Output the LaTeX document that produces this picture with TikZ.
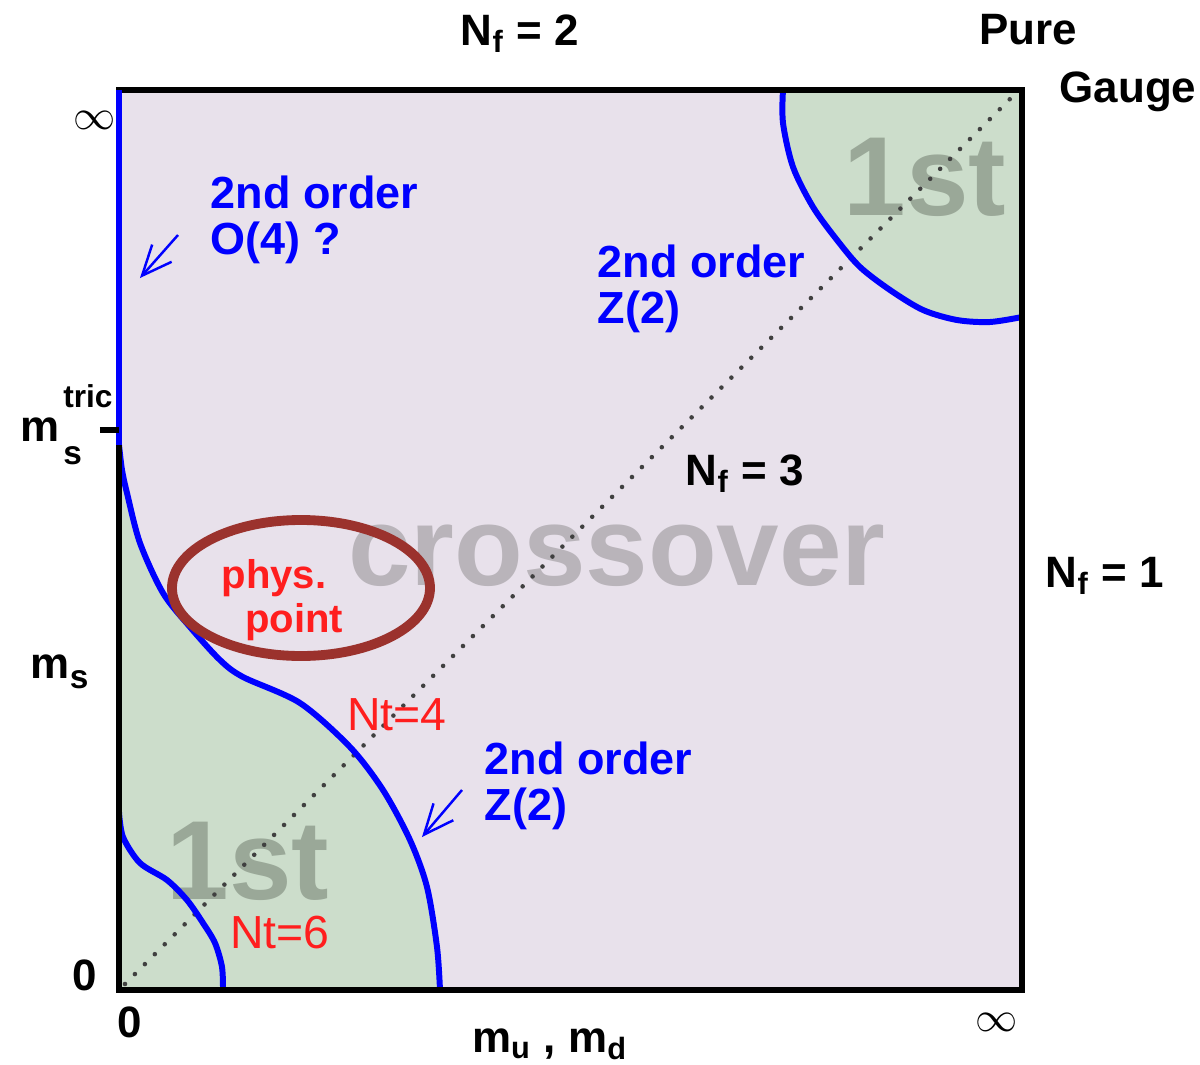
\documentclass[tikz,border=0pt]{standalone}
\usepackage{fontspec}
\setmainfont{Liberation Sans}
\usepackage{xcolor}
\usepackage{tikz}
\usetikzlibrary{positioning, arrows.meta, calc}

\definecolor{xoverfill}{RGB}{232,225,235}
\definecolor{firstfill}{RGB}{204,221,203}
\definecolor{firstgray}{RGB}{154,168,152}
\definecolor{xovergray}{RGB}{185,180,186}
\definecolor{ellred}{RGB}{155,50,45}
\definecolor{ptred}{RGB}{255,30,30}

\begin{document}
\begin{tikzpicture}[
    axlbl/.style={font=\bfseries\fontsize{12.5}{14}\selectfont, inner sep=0pt},
    order/.style={text=blue, align=left, anchor=north west, inner sep=0pt,
                  font=\bfseries\fontsize{12.8}{13.2}\selectfont},
    biglbl/.style={anchor=base, inner sep=0pt, font=\bfseries\fontsize{32}{36}\selectfont},
    ntlbl/.style={text=ptred, anchor=base, inner sep=0pt, font=\fontsize{13.2}{15}\selectfont},
    critline/.style={blue, line width=1.7pt},
    hint/.style={blue, line width=0.7pt, -{Straight Barb[length=3mm, width=2.6mm]}}
  ]
    \useasboundingbox (-1.19,-0.74) rectangle (10.81,9.90);

    % Regions
    \fill[xoverfill] (0,0) rectangle (9.03,9);
    \fill[firstfill] (0,0) -- plot[smooth] coordinates {(0,5.45) (0.03,5.2) (0.08,4.97) (0.21,4.47) (0.44,3.97) (0.71,3.63) (1.01,3.30) (1.24,3.13) (1.81,2.87) (2.31,2.43) (2.64,2.00) (2.91,1.50) (3.08,1.03) (3.18,0.43) (3.21,0)} -- cycle;
    \fill[firstfill] (9.03,9) -- plot[smooth] coordinates {(6.64,9) (6.64,8.67) (6.74,8.23) (6.94,7.83) (7.18,7.50) (7.41,7.23) (7.71,7.00) (8.04,6.80) (8.38,6.70) (8.71,6.68) (9.03,6.73)} -- cycle;

    % Region names
    \node[biglbl, text=xovergray] (xover) at (4.98,4.05) {crossover};
    \node[biglbl, text=firstgray] (firstlo) at (1.29,0.91) {1st};
    \node[biglbl, text=firstgray] (firsthi) at (8.06,7.75) {1st};

    % Nf=3 diagonal
    \coordinate (diaglo) at (0.06,0.06);
    \coordinate (diaghi) at (8.94,8.94);
    \draw[black!75, line width=1.3pt, line cap=round, dash pattern=on 0pt off 4pt] (diaglo) -- (diaghi);

    % Critical lines
    \draw[critline] (0,9) -- plot[smooth] coordinates {(0,5.45) (0.03,5.2) (0.08,4.97) (0.21,4.47) (0.44,3.97) (0.71,3.63) (1.01,3.30) (1.24,3.13) (1.81,2.87) (2.31,2.43) (2.64,2.00) (2.91,1.50) (3.08,1.03) (3.18,0.43) (3.21,0)};
    \draw[critline] plot[smooth] coordinates {(0,1.78) (0.04,1.53) (0.21,1.27) (0.48,1.10) (0.68,0.90) (0.84,0.67) (0.96,0.47) (1.03,0.23) (1.04,0)};
    \draw[critline] plot[smooth] coordinates {(6.64,9) (6.64,8.67) (6.74,8.23) (6.94,7.83) (7.18,7.50) (7.41,7.23) (7.71,7.00) (8.04,6.80) (8.38,6.70) (8.71,6.68) (9.03,6.73)};

    % Frame
    \draw[black, line width=1.5pt] (0,0) rectangle (9.03,9);
    \draw[critline] (0,9) -- (0,5.45);
    \draw[black, line width=1.5pt] (-0.19,5.60) -- (0,5.60);

    % Physical point
    \draw[ellred, line width=2.8pt] (1.82,4.02) ellipse [x radius=1.29, y radius=0.68];
    \node[text=ptred, anchor=base, inner sep=0pt, font=\bfseries\fontsize{11.4}{13}\selectfont] (phys) at (1.55,4.02) {phys.};
    \node[text=ptred, anchor=base, inner sep=0pt, font=\bfseries\fontsize{11.4}{13}\selectfont] (point) at (1.75,3.58) {point};

    % Nt labels
    \node[ntlbl] (nt4) at (2.78,2.60) {Nt=4};
    \node[ntlbl] (nt6) at (1.61,0.42) {Nt=6};

    % Order labels and arrows
    \node[order] (oleft) at (0.91,8.15) {2nd order\\O(4) ?};
    \node[order] (ohi) at (4.78,7.46) {2nd order\\Z(2)};
    \node[order] (olo) at (3.65,2.49) {2nd order\\Z(2)};
    \coordinate (aleft0) at (0.59,7.55);
    \coordinate (aleft1) at (0.21,7.12);
    \coordinate (alo0) at (3.43,2.00);
    \coordinate (alo1) at (3.03,1.53);
    \draw[hint] (aleft0) -- (aleft1);
    \draw[hint] (alo0) -- (alo1);

    % Axis labels
    \node[axlbl, anchor=base] (nf2) at (4.01,9.45) {N\textsubscript{f} = 2};
    \node[axlbl, anchor=base] (pure) at (9.09,9.46) {Pure};
    \node[axlbl, anchor=base] (gauge) at (10.09,8.88) {Gauge};
    \node[axlbl, anchor=base] (nf3) at (6.26,5.05) {N\textsubscript{f} = 3};
    \node[axlbl, anchor=base] (nf1) at (9.86,4.03) {N\textsubscript{f} = 1};
    \node[axlbl, font=\fontsize{13}{13}\selectfont] (infl) at (-0.24,8.70) {$\infty$};
    \node[axlbl, font=\fontsize{13}{13}\selectfont] (infb) at (8.78,-0.32) {$\infty$};
    \node[axlbl] (zerol) at (-0.34,0.15) {0};
    \node[axlbl] (zerob) at (0.11,-0.32) {0};
    \node[axlbl, anchor=base west] (mstric) at (-0.99,5.49) {m\kern1pt\rlap{\raisebox{9.5pt}{\fontsize{9}{9}\selectfont tric}}\raisebox{-6.8pt}{\fontsize{9.5}{10}\selectfont s}};
    \node[axlbl, anchor=base west] (ms) at (-0.89,3.12) {m\raisebox{-3pt}{\fontsize{9.5}{10}\selectfont s}};
    \node[axlbl, anchor=base] (mud) at (4.31,-0.62) {m\textsubscript{u} , m\textsubscript{d}};
\end{tikzpicture}
\end{document}
